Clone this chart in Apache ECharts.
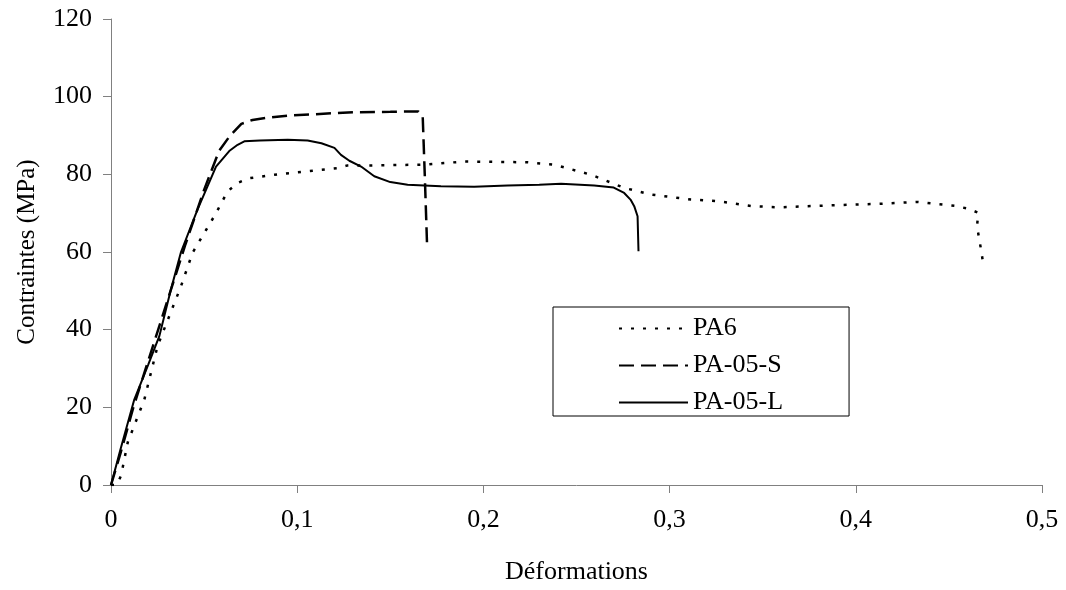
<!DOCTYPE html>
<html>
<head>
<meta charset="utf-8">
<script src="https://cdn.jsdelivr.net/npm/echarts@6/dist/echarts.min.js"></script>
<style>
  html, body { margin: 0; padding: 0; background: #fff; }
  #main { width: 1066px; height: 590px; }
</style>
</head>
<body>
<div id="main"></div>
<script>
// PA6 (dotted)
var pa6Strain = [0, 0.003, 0.0054, 0.009, 0.0179, 0.025, 0.0313, 0.0376, 0.0438, 0.0501, 0.0564, 0.0626, 0.068, 0.0743, 0.0877, 0.1056, 0.1217, 0.127, 0.14, 0.1683, 0.1897, 0.2237, 0.238, 0.2578, 0.2757, 0.29, 0.3115, 0.3258, 0.3446, 0.3588, 0.3856, 0.4125, 0.4332, 0.453, 0.46, 0.4658, 0.4651, 0.4672, 0.4681];
var pa6Stress = [0, 0, 2.4, 11, 22, 35.8, 43.5, 51.2, 59.8, 64.9, 70, 75.6, 77.8, 79, 79.9, 80.8, 81.6, 82.3, 82.3, 82.5, 83.3, 83.1, 82.5, 79.9, 76.5, 74.8, 73.5, 73.1, 71.8, 71.5, 72, 72.4, 72.9, 71.9, 71.2, 70.1, 66.6, 60.8, 58];

// PA-05-S (dashed)
var pa05sStrain = [0, 0.005, 0.012, 0.02, 0.03, 0.04, 0.05, 0.058, 0.064, 0.07, 0.076, 0.084, 0.095, 0.11, 0.13, 0.15, 0.165, 0.1674, 0.1685, 0.1697];
var pa05sStress = [0, 8, 20, 32, 47, 62, 76, 86, 90, 93, 94, 94.6, 95.1, 95.5, 96, 96.1, 96.2, 95, 80, 62.5];

// PA-05-L (solid)
var pa05lStrain = [0, 0.005, 0.0125, 0.02, 0.026, 0.032, 0.0376, 0.0465, 0.0564, 0.0635, 0.068, 0.0716, 0.08, 0.0949, 0.1056, 0.113, 0.12, 0.1235, 0.128, 0.1343, 0.1414, 0.15, 0.1593, 0.1772, 0.195, 0.213, 0.23, 0.2417, 0.2595, 0.27, 0.2756, 0.279, 0.281, 0.2828, 0.2833];
var pa05lStress = [0, 9, 22, 31, 38.4, 50, 60, 71, 82, 86, 87.6, 88.5, 88.7, 88.9, 88.7, 88, 86.8, 85, 83.5, 82, 79.5, 78, 77.3, 76.9, 76.8, 77.1, 77.3, 77.6, 77.1, 76.6, 75.2, 73.5, 71.8, 69.2, 60.2];

function pairs(xs, ys) {
  return xs.map(function (x, i) { return [x, ys[i]]; });
}

var font = 'Liberation Serif, Times New Roman, serif';
var chart = echarts.init(document.getElementById('main'));

chart.setOption({
  animation: false,
  backgroundColor: '#fff',
  textStyle: { fontFamily: font },
  grid: { left: 111, right: 24, top: 19, bottom: 104 },
  legend: {
    orient: 'vertical',
    left: 553,
    top: 307,
    padding: [8, 66, 0, 65],
    itemGap: 10,
    itemWidth: 69,
    itemHeight: 14,
    borderColor: '#000',
    borderWidth: 1,
    itemStyle: { color: 'rgba(0,0,0,0)', borderWidth: 0, opacity: 0 },
    textStyle: { fontFamily: font, fontSize: 26, lineHeight: 27, color: '#000' },
    data: ['PA6', 'PA-05-S', 'PA-05-L']
  },
  xAxis: {
    type: 'value',
    min: 0, max: 0.5, interval: 0.1,
    name: 'Déformations',
    nameLocation: 'middle',
    nameGap: 74,
    nameTextStyle: { fontFamily: font, fontSize: 26, color: '#000' },
    axisLine: { lineStyle: { color: '#808080', width: 1 } },
    axisTick: { inside: false, length: 8, lineStyle: { color: '#808080' } },
    axisLabel: {
      fontFamily: font, fontSize: 26, color: '#000', margin: 22,
      formatter: function (v) { return String(+v.toFixed(1)).replace('.', ','); }
    },
    splitLine: { show: false }
  },
  yAxis: {
    type: 'value',
    min: 0, max: 120, interval: 20,
    name: 'Contraintes (MPa)',
    nameLocation: 'middle',
    nameGap: 71,
    nameTextStyle: { fontFamily: font, fontSize: 25, color: '#000' },
    axisLine: { show: true, lineStyle: { color: '#808080', width: 1 } },
    axisTick: { show: true, inside: false, length: 8, lineStyle: { color: '#808080' } },
    axisLabel: { fontFamily: font, fontSize: 26, color: '#000', margin: 19 },
    splitLine: { show: false }
  },
  series: [
    {
      name: 'PA6', type: 'line', symbol: 'none',
      lineStyle: { color: '#000', width: 2.5, type: [3, 9] },
      itemStyle: { color: '#000' },
      data: pairs(pa6Strain, pa6Stress)
    },
    {
      name: 'PA-05-S', type: 'line', symbol: 'none',
      lineStyle: { color: '#000', width: 2.5, type: [15, 7] },
      itemStyle: { color: '#000' },
      data: pairs(pa05sStrain, pa05sStress)
    },
    {
      name: 'PA-05-L', type: 'line', symbol: 'none',
      lineStyle: { color: '#000', width: 2 },
      itemStyle: { color: '#000' },
      data: pairs(pa05lStrain, pa05lStress)
    }
  ]
});
</script>
</body>
</html>
